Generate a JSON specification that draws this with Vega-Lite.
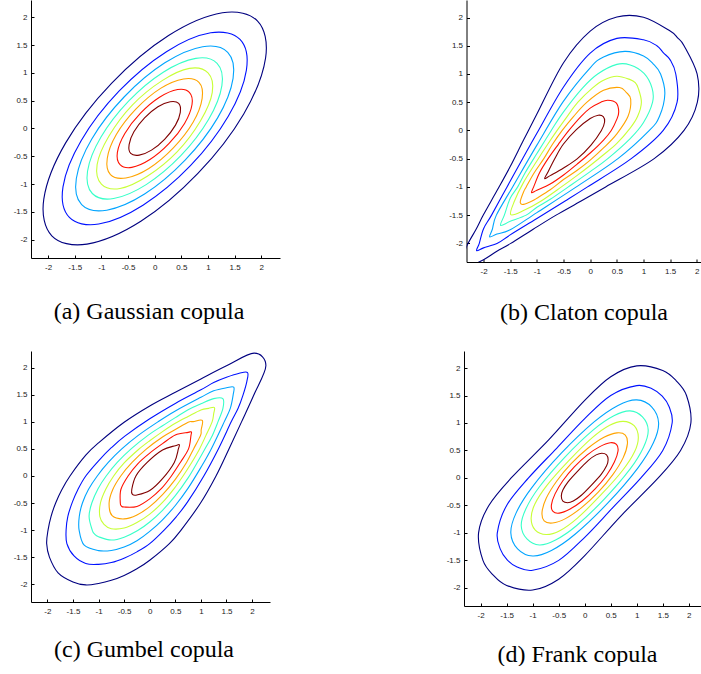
{
  "$schema": "https://vega.github.io/schema/vega-lite/v6.json",
  "background": "white",
  "padding": 0,
  "spacing": 27,
  "datasets": {
    "a": [
      {"lev":1,"i":0,"x":1.93,"y":1.93},{"lev":1,"i":1,"x":1.27,"y":2.08},{"lev":1,"i":2,"x":0.26,"y":1.67},{"lev":1,"i":3,"x":-0.81,"y":0.81},{"lev":1,"i":4,"x":-1.67,"y":-0.26},{"lev":1,"i":5,"x":-2.08,"y":-1.27},{"lev":1,"i":6,"x":-1.93,"y":-1.93},{"lev":1,"i":7,"x":-1.27,"y":-2.08},{"lev":1,"i":8,"x":-0.26,"y":-1.67},{"lev":1,"i":9,"x":0.81,"y":-0.81},{"lev":1,"i":10,"x":1.67,"y":0.26},{"lev":1,"i":11,"x":2.08,"y":1.27},
      {"lev":2,"i":0,"x":1.60,"y":1.60},{"lev":2,"i":1,"x":1.05,"y":1.72},{"lev":2,"i":2,"x":0.22,"y":1.38},{"lev":2,"i":3,"x":-0.67,"y":0.67},{"lev":2,"i":4,"x":-1.38,"y":-0.22},{"lev":2,"i":5,"x":-1.72,"y":-1.05},{"lev":2,"i":6,"x":-1.60,"y":-1.60},{"lev":2,"i":7,"x":-1.05,"y":-1.72},{"lev":2,"i":8,"x":-0.22,"y":-1.38},{"lev":2,"i":9,"x":0.67,"y":-0.67},{"lev":2,"i":10,"x":1.38,"y":0.22},{"lev":2,"i":11,"x":1.72,"y":1.05},
      {"lev":3,"i":0,"x":1.37,"y":1.37},{"lev":3,"i":1,"x":0.90,"y":1.47},{"lev":3,"i":2,"x":0.19,"y":1.18},{"lev":3,"i":3,"x":-0.57,"y":0.57},{"lev":3,"i":4,"x":-1.18,"y":-0.19},{"lev":3,"i":5,"x":-1.47,"y":-0.90},{"lev":3,"i":6,"x":-1.37,"y":-1.37},{"lev":3,"i":7,"x":-0.90,"y":-1.47},{"lev":3,"i":8,"x":-0.19,"y":-1.18},{"lev":3,"i":9,"x":0.57,"y":-0.57},{"lev":3,"i":10,"x":1.18,"y":0.19},{"lev":3,"i":11,"x":1.47,"y":0.90},
      {"lev":4,"i":0,"x":1.17,"y":1.17},{"lev":4,"i":1,"x":0.77,"y":1.26},{"lev":4,"i":2,"x":0.16,"y":1.01},{"lev":4,"i":3,"x":-0.49,"y":0.49},{"lev":4,"i":4,"x":-1.01,"y":-0.16},{"lev":4,"i":5,"x":-1.26,"y":-0.77},{"lev":4,"i":6,"x":-1.17,"y":-1.17},{"lev":4,"i":7,"x":-0.77,"y":-1.26},{"lev":4,"i":8,"x":-0.16,"y":-1.01},{"lev":4,"i":9,"x":0.49,"y":-0.49},{"lev":4,"i":10,"x":1.01,"y":0.16},{"lev":4,"i":11,"x":1.26,"y":0.77},
      {"lev":5,"i":0,"x":1.00,"y":1.00},{"lev":5,"i":1,"x":0.65,"y":1.08},{"lev":5,"i":2,"x":0.14,"y":0.86},{"lev":5,"i":3,"x":-0.42,"y":0.42},{"lev":5,"i":4,"x":-0.86,"y":-0.14},{"lev":5,"i":5,"x":-1.08,"y":-0.65},{"lev":5,"i":6,"x":-1.00,"y":-1.00},{"lev":5,"i":7,"x":-0.65,"y":-1.08},{"lev":5,"i":8,"x":-0.14,"y":-0.86},{"lev":5,"i":9,"x":0.42,"y":-0.42},{"lev":5,"i":10,"x":0.86,"y":0.14},{"lev":5,"i":11,"x":1.08,"y":0.65},
      {"lev":6,"i":0,"x":0.83,"y":0.83},{"lev":6,"i":1,"x":0.54,"y":0.89},{"lev":6,"i":2,"x":0.11,"y":0.72},{"lev":6,"i":3,"x":-0.35,"y":0.35},{"lev":6,"i":4,"x":-0.72,"y":-0.11},{"lev":6,"i":5,"x":-0.89,"y":-0.54},{"lev":6,"i":6,"x":-0.83,"y":-0.83},{"lev":6,"i":7,"x":-0.54,"y":-0.89},{"lev":6,"i":8,"x":-0.11,"y":-0.72},{"lev":6,"i":9,"x":0.35,"y":-0.35},{"lev":6,"i":10,"x":0.72,"y":0.11},{"lev":6,"i":11,"x":0.89,"y":0.54},
      {"lev":7,"i":0,"x":0.65,"y":0.65},{"lev":7,"i":1,"x":0.43,"y":0.70},{"lev":7,"i":2,"x":0.09,"y":0.56},{"lev":7,"i":3,"x":-0.27,"y":0.27},{"lev":7,"i":4,"x":-0.56,"y":-0.09},{"lev":7,"i":5,"x":-0.70,"y":-0.43},{"lev":7,"i":6,"x":-0.65,"y":-0.65},{"lev":7,"i":7,"x":-0.43,"y":-0.70},{"lev":7,"i":8,"x":-0.09,"y":-0.56},{"lev":7,"i":9,"x":0.27,"y":-0.27},{"lev":7,"i":10,"x":0.56,"y":0.09},{"lev":7,"i":11,"x":0.70,"y":0.43},
      {"lev":8,"i":0,"x":0.45,"y":0.45},{"lev":8,"i":1,"x":0.29,"y":0.48},{"lev":8,"i":2,"x":0.06,"y":0.39},{"lev":8,"i":3,"x":-0.19,"y":0.19},{"lev":8,"i":4,"x":-0.39,"y":-0.06},{"lev":8,"i":5,"x":-0.48,"y":-0.29},{"lev":8,"i":6,"x":-0.45,"y":-0.45},{"lev":8,"i":7,"x":-0.29,"y":-0.48},{"lev":8,"i":8,"x":-0.06,"y":-0.39},{"lev":8,"i":9,"x":0.19,"y":-0.19},{"lev":8,"i":10,"x":0.39,"y":0.06},{"lev":8,"i":11,"x":0.48,"y":0.29}
    ],
    "b": [
      {"lev":8,"i":0,"x":-0.855,"y":-0.855},{"lev":8,"i":1,"x":-0.80,"y":-0.75},{"lev":8,"i":2,"x":-0.665,"y":-0.5},{"lev":8,"i":3,"x":-0.505,"y":-0.245},{"lev":8,"i":4,"x":-0.26,"y":0.015},{"lev":8,"i":5,"x":0,"y":0.21},{"lev":8,"i":6,"x":0.15,"y":0.27},{"lev":8,"i":7,"x":0.245,"y":0.245},{"lev":8,"i":8,"x":0.27,"y":0.15},{"lev":8,"i":9,"x":0.21,"y":0},{"lev":8,"i":10,"x":0.015,"y":-0.26},{"lev":8,"i":11,"x":-0.245,"y":-0.505},{"lev":8,"i":12,"x":-0.5,"y":-0.665},{"lev":8,"i":13,"x":-0.75,"y":-0.80},
      {"lev":7,"i":0,"x":-1.10,"y":-1.10},{"lev":7,"i":1,"x":-1.06,"y":-1.0},{"lev":7,"i":2,"x":-0.95,"y":-0.75},{"lev":7,"i":3,"x":-0.79,"y":-0.5},{"lev":7,"i":4,"x":-0.60,"y":-0.25},{"lev":7,"i":5,"x":-0.40,"y":0},{"lev":7,"i":6,"x":-0.17,"y":0.25},{"lev":7,"i":7,"x":0,"y":0.395},{"lev":7,"i":8,"x":0.20,"y":0.50},{"lev":7,"i":9,"x":0.33,"y":0.535},{"lev":7,"i":10,"x":0.487,"y":0.487},{"lev":7,"i":11,"x":0.535,"y":0.33},{"lev":7,"i":12,"x":0.50,"y":0.20},{"lev":7,"i":13,"x":0.395,"y":0},{"lev":7,"i":14,"x":0.25,"y":-0.17},{"lev":7,"i":15,"x":0,"y":-0.40},{"lev":7,"i":16,"x":-0.25,"y":-0.60},{"lev":7,"i":17,"x":-0.5,"y":-0.79},{"lev":7,"i":18,"x":-0.75,"y":-0.95},{"lev":7,"i":19,"x":-1.0,"y":-1.06},
      {"lev":6,"i":0,"x":-1.30,"y":-1.30},{"lev":6,"i":1,"x":-1.31,"y":-1.25},{"lev":6,"i":2,"x":-1.25,"y":-1.09},{"lev":6,"i":3,"x":-1.20,"y":-1.0},{"lev":6,"i":4,"x":-1.05,"y":-0.75},{"lev":6,"i":5,"x":-0.87,"y":-0.5},{"lev":6,"i":6,"x":-0.71,"y":-0.25},{"lev":6,"i":7,"x":-0.525,"y":0},{"lev":6,"i":8,"x":-0.31,"y":0.25},{"lev":6,"i":9,"x":-0.06,"y":0.5},{"lev":6,"i":10,"x":0.25,"y":0.71},{"lev":6,"i":11,"x":0.55,"y":0.76},{"lev":6,"i":12,"x":0.675,"y":0.675},{"lev":6,"i":13,"x":0.76,"y":0.55},{"lev":6,"i":14,"x":0.71,"y":0.25},{"lev":6,"i":15,"x":0.5,"y":-0.06},{"lev":6,"i":16,"x":0.25,"y":-0.31},{"lev":6,"i":17,"x":0,"y":-0.525},{"lev":6,"i":18,"x":-0.25,"y":-0.71},{"lev":6,"i":19,"x":-0.5,"y":-0.87},{"lev":6,"i":20,"x":-0.75,"y":-1.05},{"lev":6,"i":21,"x":-1.0,"y":-1.20},{"lev":6,"i":22,"x":-1.09,"y":-1.25},{"lev":6,"i":23,"x":-1.25,"y":-1.31},
      {"lev":5,"i":0,"x":-1.49,"y":-1.49},{"lev":5,"i":1,"x":-1.42,"y":-1.25},{"lev":5,"i":2,"x":-1.25,"y":-0.92},{"lev":5,"i":3,"x":-1.0,"y":-0.54},{"lev":5,"i":4,"x":-0.80,"y":-0.25},{"lev":5,"i":5,"x":-0.62,"y":0},{"lev":5,"i":6,"x":-0.43,"y":0.25},{"lev":5,"i":7,"x":-0.23,"y":0.5},{"lev":5,"i":8,"x":0.04,"y":0.75},{"lev":5,"i":9,"x":0.25,"y":0.89},{"lev":5,"i":10,"x":0.5,"y":0.96},{"lev":5,"i":11,"x":0.75,"y":0.90},{"lev":5,"i":12,"x":0.845,"y":0.845},{"lev":5,"i":13,"x":0.90,"y":0.75},{"lev":5,"i":14,"x":0.96,"y":0.5},{"lev":5,"i":15,"x":0.89,"y":0.25},{"lev":5,"i":16,"x":0.75,"y":0.04},{"lev":5,"i":17,"x":0.5,"y":-0.23},{"lev":5,"i":18,"x":0.25,"y":-0.43},{"lev":5,"i":19,"x":0,"y":-0.62},{"lev":5,"i":20,"x":-0.25,"y":-0.80},{"lev":5,"i":21,"x":-0.54,"y":-1.0},{"lev":5,"i":22,"x":-0.92,"y":-1.25},{"lev":5,"i":23,"x":-1.25,"y":-1.42},
      {"lev":4,"i":0,"x":-1.68,"y":-1.68},{"lev":4,"i":1,"x":-1.61,"y":-1.5},{"lev":4,"i":2,"x":-1.5,"y":-1.20},{"lev":4,"i":3,"x":-1.36,"y":-1.0},{"lev":4,"i":4,"x":-1.22,"y":-0.75},{"lev":4,"i":5,"x":-1.0,"y":-0.41},{"lev":4,"i":6,"x":-0.73,"y":0},{"lev":4,"i":7,"x":-0.5,"y":0.33},{"lev":4,"i":8,"x":-0.145,"y":0.75},{"lev":4,"i":9,"x":0.14,"y":1.0},{"lev":4,"i":10,"x":0.5,"y":1.17},{"lev":4,"i":11,"x":0.75,"y":1.16},{"lev":4,"i":12,"x":1.01,"y":1.01},{"lev":4,"i":13,"x":1.16,"y":0.75},{"lev":4,"i":14,"x":1.17,"y":0.5},{"lev":4,"i":15,"x":1.0,"y":0.14},{"lev":4,"i":16,"x":0.75,"y":-0.145},{"lev":4,"i":17,"x":0.33,"y":-0.5},{"lev":4,"i":18,"x":0,"y":-0.73},{"lev":4,"i":19,"x":-0.41,"y":-1.0},{"lev":4,"i":20,"x":-0.75,"y":-1.22},{"lev":4,"i":21,"x":-1.0,"y":-1.36},{"lev":4,"i":22,"x":-1.20,"y":-1.5},{"lev":4,"i":23,"x":-1.5,"y":-1.61},
      {"lev":3,"i":0,"x":-1.885,"y":-1.885},{"lev":3,"i":1,"x":-1.835,"y":-1.75},{"lev":3,"i":2,"x":-1.76,"y":-1.5},{"lev":3,"i":3,"x":-1.455,"y":-1.0},{"lev":3,"i":4,"x":-1.0,"y":-0.26},{"lev":3,"i":5,"x":-0.5,"y":0.52},{"lev":3,"i":6,"x":0,"y":1.11},{"lev":3,"i":7,"x":0.25,"y":1.30},{"lev":3,"i":8,"x":0.65,"y":1.40},{"lev":3,"i":9,"x":1.0,"y":1.32},{"lev":3,"i":10,"x":1.18,"y":1.18},{"lev":3,"i":11,"x":1.32,"y":1.0},{"lev":3,"i":12,"x":1.40,"y":0.65},{"lev":3,"i":13,"x":1.30,"y":0.25},{"lev":3,"i":14,"x":1.11,"y":0},{"lev":3,"i":15,"x":0.52,"y":-0.5},{"lev":3,"i":16,"x":-0.26,"y":-1.0},{"lev":3,"i":17,"x":-1.0,"y":-1.455},{"lev":3,"i":18,"x":-1.5,"y":-1.76},{"lev":3,"i":19,"x":-1.75,"y":-1.835},
      {"lev":2,"i":0,"x":-2.13,"y":-2.13},{"lev":2,"i":1,"x":-2.08,"y":-2.0},{"lev":2,"i":2,"x":-2.0,"y":-1.74},{"lev":2,"i":3,"x":-1.85,"y":-1.5},{"lev":2,"i":4,"x":-1.56,"y":-1.0},{"lev":2,"i":5,"x":-1.25,"y":-0.47},{"lev":2,"i":6,"x":-1.0,"y":-0.05},{"lev":2,"i":7,"x":-0.5,"y":0.77},{"lev":2,"i":8,"x":0,"y":1.37},{"lev":2,"i":9,"x":0.5,"y":1.63},{"lev":2,"i":10,"x":1.0,"y":1.605},{"lev":2,"i":11,"x":1.25,"y":1.50},{"lev":2,"i":12,"x":1.374,"y":1.374},{"lev":2,"i":13,"x":1.50,"y":1.25},{"lev":2,"i":14,"x":1.605,"y":1.0},{"lev":2,"i":15,"x":1.63,"y":0.5},{"lev":2,"i":16,"x":1.37,"y":0},{"lev":2,"i":17,"x":0.77,"y":-0.5},{"lev":2,"i":18,"x":-0.05,"y":-1.0},{"lev":2,"i":19,"x":-0.47,"y":-1.25},{"lev":2,"i":20,"x":-1.0,"y":-1.56},{"lev":2,"i":21,"x":-1.5,"y":-1.85},{"lev":2,"i":22,"x":-1.74,"y":-2.0},{"lev":2,"i":23,"x":-2.0,"y":-2.08},
      {"lev":1,"i":0,"x":-2.49,"y":-2.49},{"lev":1,"i":1,"x":-2.40,"y":-2.25},{"lev":1,"i":2,"x":-2.29,"y":-2.0},{"lev":1,"i":3,"x":-2.14,"y":-1.75},{"lev":1,"i":4,"x":-2.0,"y":-1.49},{"lev":1,"i":5,"x":-1.75,"y":-1.07},{"lev":1,"i":6,"x":-1.5,"y":-0.64},{"lev":1,"i":7,"x":-1.25,"y":-0.17},{"lev":1,"i":8,"x":-1.0,"y":0.29},{"lev":1,"i":9,"x":-0.5,"y":1.20},{"lev":1,"i":10,"x":0,"y":1.76},{"lev":1,"i":11,"x":0.5,"y":2.01},{"lev":1,"i":12,"x":1.0,"y":2.005},{"lev":1,"i":13,"x":1.5,"y":1.76},{"lev":1,"i":14,"x":1.64,"y":1.64},{"lev":1,"i":15,"x":1.76,"y":1.5},{"lev":1,"i":16,"x":2.005,"y":1.0},{"lev":1,"i":17,"x":2.01,"y":0.5},{"lev":1,"i":18,"x":1.76,"y":0},{"lev":1,"i":19,"x":1.20,"y":-0.5},{"lev":1,"i":20,"x":0.29,"y":-1.0},{"lev":1,"i":21,"x":-0.17,"y":-1.25},{"lev":1,"i":22,"x":-0.64,"y":-1.5},{"lev":1,"i":23,"x":-1.07,"y":-1.75},{"lev":1,"i":24,"x":-1.49,"y":-2.0},{"lev":1,"i":25,"x":-1.75,"y":-2.14},{"lev":1,"i":26,"x":-2.0,"y":-2.29},{"lev":1,"i":27,"x":-2.25,"y":-2.40}
    ],
    "c": [
      {"lev":8,"i":0,"x":-0.339,"y":-0.339},{"lev":8,"i":1,"x":-0.351,"y":-0.25},{"lev":8,"i":2,"x":-0.27,"y":0},{"lev":8,"i":3,"x":-0.05,"y":0.25},{"lev":8,"i":4,"x":0.25,"y":0.48},{"lev":8,"i":5,"x":0.5,"y":0.56},{"lev":8,"i":6,"x":0.578,"y":0.578},{"lev":8,"i":7,"x":0.56,"y":0.5},{"lev":8,"i":8,"x":0.48,"y":0.25},{"lev":8,"i":9,"x":0.25,"y":-0.05},{"lev":8,"i":10,"x":0,"y":-0.27},{"lev":8,"i":11,"x":-0.25,"y":-0.351},
      {"lev":7,"i":0,"x":-0.554,"y":-0.554},{"lev":7,"i":1,"x":-0.575,"y":-0.5},{"lev":7,"i":2,"x":-0.564,"y":-0.25},{"lev":7,"i":3,"x":-0.423,"y":0},{"lev":7,"i":4,"x":-0.23,"y":0.23},{"lev":7,"i":5,"x":0,"y":0.423},{"lev":7,"i":6,"x":0.25,"y":0.598},{"lev":7,"i":7,"x":0.5,"y":0.758},{"lev":7,"i":8,"x":0.75,"y":0.806},{"lev":7,"i":9,"x":0.814,"y":0.814},{"lev":7,"i":10,"x":0.806,"y":0.75},{"lev":7,"i":11,"x":0.758,"y":0.5},{"lev":7,"i":12,"x":0.598,"y":0.25},{"lev":7,"i":13,"x":0.423,"y":0},{"lev":7,"i":14,"x":0.23,"y":-0.23},{"lev":7,"i":15,"x":0,"y":-0.423},{"lev":7,"i":16,"x":-0.25,"y":-0.564},{"lev":7,"i":17,"x":-0.5,"y":-0.575},
      {"lev":6,"i":0,"x":-0.735,"y":-0.735},{"lev":6,"i":1,"x":-0.794,"y":-0.5},{"lev":6,"i":2,"x":-0.722,"y":-0.25},{"lev":6,"i":3,"x":-0.566,"y":0},{"lev":6,"i":4,"x":-0.345,"y":0.25},{"lev":6,"i":5,"x":-0.062,"y":0.5},{"lev":6,"i":6,"x":0.25,"y":0.719},{"lev":6,"i":7,"x":0.5,"y":0.857},{"lev":6,"i":8,"x":0.75,"y":0.993},{"lev":6,"i":9,"x":0.85,"y":1.005},{"lev":6,"i":10,"x":1.027,"y":1.027},{"lev":6,"i":11,"x":1.005,"y":0.85},{"lev":6,"i":12,"x":0.993,"y":0.75},{"lev":6,"i":13,"x":0.857,"y":0.5},{"lev":6,"i":14,"x":0.719,"y":0.25},{"lev":6,"i":15,"x":0.5,"y":-0.062},{"lev":6,"i":16,"x":0.25,"y":-0.345},{"lev":6,"i":17,"x":0,"y":-0.566},{"lev":6,"i":18,"x":-0.25,"y":-0.722},{"lev":6,"i":19,"x":-0.5,"y":-0.794},
      {"lev":5,"i":0,"x":-0.894,"y":-0.894},{"lev":5,"i":1,"x":-0.975,"y":-0.75},{"lev":5,"i":2,"x":-0.963,"y":-0.5},{"lev":5,"i":3,"x":-0.862,"y":-0.25},{"lev":5,"i":4,"x":-0.705,"y":0},{"lev":5,"i":5,"x":-0.495,"y":0.245},{"lev":5,"i":6,"x":-0.23,"y":0.48},{"lev":5,"i":7,"x":0,"y":0.651},{"lev":5,"i":8,"x":0.25,"y":0.82},{"lev":5,"i":9,"x":0.5,"y":0.973},{"lev":5,"i":10,"x":0.75,"y":1.099},{"lev":5,"i":11,"x":1.0,"y":1.219},{"lev":5,"i":12,"x":1.152,"y":1.25},{"lev":5,"i":13,"x":1.264,"y":1.264},{"lev":5,"i":14,"x":1.25,"y":1.152},{"lev":5,"i":15,"x":1.219,"y":1.0},{"lev":5,"i":16,"x":1.099,"y":0.75},{"lev":5,"i":17,"x":0.973,"y":0.5},{"lev":5,"i":18,"x":0.82,"y":0.25},{"lev":5,"i":19,"x":0.651,"y":0},{"lev":5,"i":20,"x":0.48,"y":-0.23},{"lev":5,"i":21,"x":0.245,"y":-0.495},{"lev":5,"i":22,"x":0,"y":-0.705},{"lev":5,"i":23,"x":-0.25,"y":-0.862},{"lev":5,"i":24,"x":-0.5,"y":-0.963},{"lev":5,"i":25,"x":-0.75,"y":-0.975},
      {"lev":4,"i":0,"x":-1.076,"y":-1.076},{"lev":4,"i":1,"x":-1.124,"y":-1.0},{"lev":4,"i":2,"x":-1.185,"y":-0.75},{"lev":4,"i":3,"x":-1.132,"y":-0.5},{"lev":4,"i":4,"x":-1.01,"y":-0.235},{"lev":4,"i":5,"x":-0.851,"y":0},{"lev":4,"i":6,"x":-0.635,"y":0.25},{"lev":4,"i":7,"x":-0.364,"y":0.5},{"lev":4,"i":8,"x":-0.035,"y":0.75},{"lev":4,"i":9,"x":0.25,"y":0.928},{"lev":4,"i":10,"x":0.5,"y":1.078},{"lev":4,"i":11,"x":0.75,"y":1.224},{"lev":4,"i":12,"x":1.0,"y":1.333},{"lev":4,"i":13,"x":1.25,"y":1.43},{"lev":4,"i":14,"x":1.429,"y":1.429},{"lev":4,"i":15,"x":1.43,"y":1.25},{"lev":4,"i":16,"x":1.333,"y":1.0},{"lev":4,"i":17,"x":1.224,"y":0.75},{"lev":4,"i":18,"x":1.078,"y":0.5},{"lev":4,"i":19,"x":0.928,"y":0.25},{"lev":4,"i":20,"x":0.75,"y":-0.035},{"lev":4,"i":21,"x":0.5,"y":-0.364},{"lev":4,"i":22,"x":0.25,"y":-0.635},{"lev":4,"i":23,"x":0,"y":-0.851},{"lev":4,"i":24,"x":-0.235,"y":-1.01},{"lev":4,"i":25,"x":-0.5,"y":-1.132},{"lev":4,"i":26,"x":-0.75,"y":-1.185},{"lev":4,"i":27,"x":-1.0,"y":-1.124},
      {"lev":3,"i":0,"x":-1.28,"y":-1.28},{"lev":3,"i":1,"x":-1.38,"y":-1.0},{"lev":3,"i":2,"x":-1.377,"y":-0.75},{"lev":3,"i":3,"x":-1.315,"y":-0.5},{"lev":3,"i":4,"x":-1.198,"y":-0.25},{"lev":3,"i":5,"x":-1.025,"y":0},{"lev":3,"i":6,"x":-0.81,"y":0.25},{"lev":3,"i":7,"x":-0.546,"y":0.5},{"lev":3,"i":8,"x":-0.225,"y":0.75},{"lev":3,"i":9,"x":0.159,"y":1.0},{"lev":3,"i":10,"x":0.5,"y":1.202},{"lev":3,"i":11,"x":1.0,"y":1.455},{"lev":3,"i":12,"x":1.25,"y":1.574},{"lev":3,"i":13,"x":1.5,"y":1.63},{"lev":3,"i":14,"x":1.641,"y":1.641},{"lev":3,"i":15,"x":1.63,"y":1.5},{"lev":3,"i":16,"x":1.574,"y":1.25},{"lev":3,"i":17,"x":1.455,"y":1.0},{"lev":3,"i":18,"x":1.202,"y":0.5},{"lev":3,"i":19,"x":1.0,"y":0.159},{"lev":3,"i":20,"x":0.75,"y":-0.225},{"lev":3,"i":21,"x":0.5,"y":-0.546},{"lev":3,"i":22,"x":0.25,"y":-0.81},{"lev":3,"i":23,"x":0,"y":-1.025},{"lev":3,"i":24,"x":-0.25,"y":-1.198},{"lev":3,"i":25,"x":-0.5,"y":-1.315},{"lev":3,"i":26,"x":-0.75,"y":-1.377},{"lev":3,"i":27,"x":-1.0,"y":-1.38},
      {"lev":2,"i":0,"x":-1.479,"y":-1.479},{"lev":2,"i":1,"x":-1.619,"y":-1.25},{"lev":2,"i":2,"x":-1.634,"y":-1.0},{"lev":2,"i":3,"x":-1.601,"y":-0.75},{"lev":2,"i":4,"x":-1.51,"y":-0.48},{"lev":2,"i":5,"x":-1.403,"y":-0.25},{"lev":2,"i":6,"x":-1.25,"y":0},{"lev":2,"i":7,"x":-1.0,"y":0.281},{"lev":2,"i":8,"x":-0.75,"y":0.522},{"lev":2,"i":9,"x":-0.48,"y":0.74},{"lev":2,"i":10,"x":0,"y":1.057},{"lev":2,"i":11,"x":0.5,"y":1.341},{"lev":2,"i":12,"x":1.0,"y":1.592},{"lev":2,"i":13,"x":1.25,"y":1.727},{"lev":2,"i":14,"x":1.5,"y":1.824},{"lev":2,"i":15,"x":1.75,"y":1.898},{"lev":2,"i":16,"x":1.911,"y":1.911},{"lev":2,"i":17,"x":1.898,"y":1.75},{"lev":2,"i":18,"x":1.824,"y":1.5},{"lev":2,"i":19,"x":1.727,"y":1.25},{"lev":2,"i":20,"x":1.592,"y":1.0},{"lev":2,"i":21,"x":1.341,"y":0.5},{"lev":2,"i":22,"x":1.057,"y":0},{"lev":2,"i":23,"x":0.74,"y":-0.48},{"lev":2,"i":24,"x":0.522,"y":-0.75},{"lev":2,"i":25,"x":0.281,"y":-1.0},{"lev":2,"i":26,"x":0,"y":-1.25},{"lev":2,"i":27,"x":-0.25,"y":-1.403},{"lev":2,"i":28,"x":-0.48,"y":-1.51},{"lev":2,"i":29,"x":-0.75,"y":-1.601},{"lev":2,"i":30,"x":-1.0,"y":-1.634},{"lev":2,"i":31,"x":-1.25,"y":-1.619},
      {"lev":1,"i":0,"x":-1.791,"y":-1.791},{"lev":1,"i":1,"x":-1.96,"y":-1.5},{"lev":1,"i":2,"x":-2.014,"y":-1.25},{"lev":1,"i":3,"x":-1.987,"y":-1.0},{"lev":1,"i":4,"x":-1.929,"y":-0.75},{"lev":1,"i":5,"x":-1.838,"y":-0.5},{"lev":1,"i":6,"x":-1.716,"y":-0.25},{"lev":1,"i":7,"x":-1.558,"y":0},{"lev":1,"i":8,"x":-1.25,"y":0.384},{"lev":1,"i":9,"x":-1.0,"y":0.612},{"lev":1,"i":10,"x":-0.5,"y":0.993},{"lev":1,"i":11,"x":0,"y":1.295},{"lev":1,"i":12,"x":0.5,"y":1.548},{"lev":1,"i":13,"x":1.0,"y":1.794},{"lev":1,"i":14,"x":1.5,"y":2.036},{"lev":1,"i":15,"x":2.04,"y":2.27},{"lev":1,"i":16,"x":2.27,"y":2.04},{"lev":1,"i":17,"x":2.036,"y":1.5},{"lev":1,"i":18,"x":1.794,"y":1.0},{"lev":1,"i":19,"x":1.548,"y":0.5},{"lev":1,"i":20,"x":1.295,"y":0},{"lev":1,"i":21,"x":0.993,"y":-0.5},{"lev":1,"i":22,"x":0.612,"y":-1.0},{"lev":1,"i":23,"x":0.384,"y":-1.25},{"lev":1,"i":24,"x":0,"y":-1.558},{"lev":1,"i":25,"x":-0.25,"y":-1.716},{"lev":1,"i":26,"x":-0.5,"y":-1.838},{"lev":1,"i":27,"x":-0.75,"y":-1.929},{"lev":1,"i":28,"x":-1.0,"y":-1.987},{"lev":1,"i":29,"x":-1.25,"y":-2.014},{"lev":1,"i":30,"x":-1.5,"y":-1.96}
    ],
    "d": [
      {"lev":8,"i":0,"x":0.42,"y":0.42},{"lev":8,"i":1,"x":0.33,"y":0.45},{"lev":8,"i":2,"x":0.22,"y":0.42},{"lev":8,"i":3,"x":0.07,"y":0.32},{"lev":8,"i":4,"x":-0.13,"y":0.13},{"lev":8,"i":5,"x":-0.32,"y":-0.07},{"lev":8,"i":6,"x":-0.42,"y":-0.22},{"lev":8,"i":7,"x":-0.45,"y":-0.33},{"lev":8,"i":8,"x":-0.42,"y":-0.42},{"lev":8,"i":9,"x":-0.33,"y":-0.45},{"lev":8,"i":10,"x":-0.22,"y":-0.42},{"lev":8,"i":11,"x":-0.07,"y":-0.32},{"lev":8,"i":12,"x":0.13,"y":-0.13},{"lev":8,"i":13,"x":0.32,"y":0.07},{"lev":8,"i":14,"x":0.42,"y":0.22},{"lev":8,"i":15,"x":0.45,"y":0.33},
      {"lev":7,"i":0,"x":0.61,"y":0.61},{"lev":7,"i":1,"x":0.49,"y":0.64},{"lev":7,"i":2,"x":0.29,"y":0.57},{"lev":7,"i":3,"x":0.05,"y":0.42},{"lev":7,"i":4,"x":-0.20,"y":0.20},{"lev":7,"i":5,"x":-0.42,"y":-0.05},{"lev":7,"i":6,"x":-0.57,"y":-0.29},{"lev":7,"i":7,"x":-0.64,"y":-0.49},{"lev":7,"i":8,"x":-0.61,"y":-0.61},{"lev":7,"i":9,"x":-0.49,"y":-0.64},{"lev":7,"i":10,"x":-0.29,"y":-0.57},{"lev":7,"i":11,"x":-0.05,"y":-0.42},{"lev":7,"i":12,"x":0.20,"y":-0.20},{"lev":7,"i":13,"x":0.42,"y":0.05},{"lev":7,"i":14,"x":0.57,"y":0.29},{"lev":7,"i":15,"x":0.64,"y":0.49},
      {"lev":6,"i":0,"x":0.78,"y":0.78},{"lev":6,"i":1,"x":0.62,"y":0.82},{"lev":6,"i":2,"x":0.37,"y":0.74},{"lev":6,"i":3,"x":0.06,"y":0.54},{"lev":6,"i":4,"x":-0.26,"y":0.26},{"lev":6,"i":5,"x":-0.54,"y":-0.06},{"lev":6,"i":6,"x":-0.74,"y":-0.37},{"lev":6,"i":7,"x":-0.82,"y":-0.62},{"lev":6,"i":8,"x":-0.78,"y":-0.78},{"lev":6,"i":9,"x":-0.62,"y":-0.82},{"lev":6,"i":10,"x":-0.37,"y":-0.74},{"lev":6,"i":11,"x":-0.06,"y":-0.54},{"lev":6,"i":12,"x":0.26,"y":-0.26},{"lev":6,"i":13,"x":0.54,"y":0.06},{"lev":6,"i":14,"x":0.74,"y":0.37},{"lev":6,"i":15,"x":0.82,"y":0.62},
      {"lev":5,"i":0,"x":0.95,"y":0.95},{"lev":5,"i":1,"x":0.74,"y":1.03},{"lev":5,"i":2,"x":0.48,"y":0.96},{"lev":5,"i":3,"x":0.14,"y":0.73},{"lev":5,"i":4,"x":-0.31,"y":0.31},{"lev":5,"i":5,"x":-0.73,"y":-0.14},{"lev":5,"i":6,"x":-0.96,"y":-0.48},{"lev":5,"i":7,"x":-1.03,"y":-0.74},{"lev":5,"i":8,"x":-0.95,"y":-0.95},{"lev":5,"i":9,"x":-0.74,"y":-1.03},{"lev":5,"i":10,"x":-0.48,"y":-0.96},{"lev":5,"i":11,"x":-0.14,"y":-0.73},{"lev":5,"i":12,"x":0.31,"y":-0.31},{"lev":5,"i":13,"x":0.73,"y":0.14},{"lev":5,"i":14,"x":0.96,"y":0.48},{"lev":5,"i":15,"x":1.03,"y":0.74},
      {"lev":4,"i":0,"x":1.11,"y":1.11},{"lev":4,"i":1,"x":0.87,"y":1.22},{"lev":4,"i":2,"x":0.56,"y":1.13},{"lev":4,"i":3,"x":0.16,"y":0.87},{"lev":4,"i":4,"x":-0.38,"y":0.38},{"lev":4,"i":5,"x":-0.87,"y":-0.16},{"lev":4,"i":6,"x":-1.13,"y":-0.56},{"lev":4,"i":7,"x":-1.22,"y":-0.87},{"lev":4,"i":8,"x":-1.11,"y":-1.11},{"lev":4,"i":9,"x":-0.87,"y":-1.22},{"lev":4,"i":10,"x":-0.56,"y":-1.13},{"lev":4,"i":11,"x":-0.16,"y":-0.87},{"lev":4,"i":12,"x":0.38,"y":-0.38},{"lev":4,"i":13,"x":0.87,"y":0.16},{"lev":4,"i":14,"x":1.13,"y":0.56},{"lev":4,"i":15,"x":1.22,"y":0.87},
      {"lev":3,"i":0,"x":1.29,"y":1.29},{"lev":3,"i":1,"x":1.00,"y":1.42},{"lev":3,"i":2,"x":0.64,"y":1.32},{"lev":3,"i":3,"x":0.18,"y":1.02},{"lev":3,"i":4,"x":-0.45,"y":0.45},{"lev":3,"i":5,"x":-1.02,"y":-0.18},{"lev":3,"i":6,"x":-1.32,"y":-0.64},{"lev":3,"i":7,"x":-1.42,"y":-1.00},{"lev":3,"i":8,"x":-1.29,"y":-1.29},{"lev":3,"i":9,"x":-1.00,"y":-1.42},{"lev":3,"i":10,"x":-0.64,"y":-1.32},{"lev":3,"i":11,"x":-0.18,"y":-1.02},{"lev":3,"i":12,"x":0.45,"y":-0.45},{"lev":3,"i":13,"x":1.02,"y":0.18},{"lev":3,"i":14,"x":1.32,"y":0.64},{"lev":3,"i":15,"x":1.42,"y":1.00},
      {"lev":2,"i":0,"x":1.49,"y":1.49},{"lev":2,"i":1,"x":1.30,"y":1.62},{"lev":2,"i":2,"x":1.00,"y":1.68},{"lev":2,"i":3,"x":0.50,"y":1.50},{"lev":2,"i":4,"x":0,"y":1.08},{"lev":2,"i":5,"x":-0.54,"y":0.54},{"lev":2,"i":6,"x":-1.08,"y":0},{"lev":2,"i":7,"x":-1.50,"y":-0.50},{"lev":2,"i":8,"x":-1.68,"y":-1.00},{"lev":2,"i":9,"x":-1.62,"y":-1.30},{"lev":2,"i":10,"x":-1.49,"y":-1.49},{"lev":2,"i":11,"x":-1.30,"y":-1.62},{"lev":2,"i":12,"x":-1.00,"y":-1.68},{"lev":2,"i":13,"x":-0.50,"y":-1.50},{"lev":2,"i":14,"x":0,"y":-1.08},{"lev":2,"i":15,"x":0.54,"y":-0.54},{"lev":2,"i":16,"x":1.08,"y":0},{"lev":2,"i":17,"x":1.50,"y":0.50},{"lev":2,"i":18,"x":1.68,"y":1.00},{"lev":2,"i":19,"x":1.62,"y":1.30},
      {"lev":1,"i":0,"x":1.763,"y":1.763},{"lev":1,"i":1,"x":1.50,"y":1.956},{"lev":1,"i":2,"x":1.00,"y":2.04},{"lev":1,"i":3,"x":0.50,"y":1.842},{"lev":1,"i":4,"x":0,"y":1.413},{"lev":1,"i":5,"x":-0.693,"y":0.693},{"lev":1,"i":6,"x":-1.413,"y":0},{"lev":1,"i":7,"x":-1.842,"y":-0.50},{"lev":1,"i":8,"x":-2.04,"y":-1.00},{"lev":1,"i":9,"x":-1.956,"y":-1.50},{"lev":1,"i":10,"x":-1.763,"y":-1.763},{"lev":1,"i":11,"x":-1.50,"y":-1.956},{"lev":1,"i":12,"x":-1.00,"y":-2.04},{"lev":1,"i":13,"x":-0.50,"y":-1.842},{"lev":1,"i":14,"x":0,"y":-1.413},{"lev":1,"i":15,"x":0.693,"y":-0.693},{"lev":1,"i":16,"x":1.413,"y":0},{"lev":1,"i":17,"x":1.842,"y":0.50},{"lev":1,"i":18,"x":2.04,"y":1.00},{"lev":1,"i":19,"x":1.956,"y":1.50}
    ]
  },
  "vconcat": [
    {
      "hconcat": [
        {
          "width": 249, "height": 258,
          "data": {"name": "a"},
          "mark": {"type": "line", "interpolate": "cardinal-closed", "strokeWidth": 1.1, "clip": true},
          "encoding": {
            "x": {"field": "x", "type": "quantitative", "scale": {"domain": [-2.32, 2.35], "nice": false, "zero": false},
                  "axis": {"values": [-2,-1.5,-1,-0.5,0,0.5,1,1.5,2], "format": "~g", "labelExpr": "replace(datum.label, '−', '-')", "title": "(a) Gaussian copula", "titleX": 117.5, "titleY": 60, "titleBaseline": "alphabetic", "titleAlign": "center"}},
            "y": {"field": "y", "type": "quantitative", "scale": {"domain": [-2.33, 2.31], "nice": false, "zero": false},
                  "axis": {"values": [-2,-1.5,-1,-0.5,0,0.5,1,1.5,2], "format": "~g", "labelExpr": "replace(datum.label, '−', '-')", "title": null, "minExtent": 25.7}},
            "color": {"field": "lev", "type": "ordinal", "scale": {"domain": [1,2,3,4,5,6,7,8], "range": ["#000080","#0012FF","#00A4FF","#37FFC8","#C8FF37","#FFA400","#FF1200","#800000"]}, "legend": null},
            "order": {"field": "i", "type": "quantitative"}
          }
        },
        {
          "width": 249, "height": 262,
          "data": {"name": "b"},
          "mark": {"type": "line", "interpolate": "cardinal-closed", "strokeWidth": 1.1, "clip": true},
          "encoding": {
            "x": {"field": "x", "type": "quantitative", "scale": {"domain": [-2.32, 2.35], "nice": false, "zero": false},
                  "axis": {"values": [-2,-1.5,-1,-0.5,0,0.5,1,1.5,2], "format": "~g", "labelExpr": "replace(datum.label, '−', '-')", "title": "(b) Claton copula", "titleX": 117, "titleY": 57, "titleBaseline": "alphabetic", "titleAlign": "center"}},
            "y": {"field": "y", "type": "quantitative", "scale": {"domain": [-2.33, 2.31], "nice": false, "zero": false},
                  "axis": {"values": [-2,-1.5,-1,-0.5,0,0.5,1,1.5,2], "format": "~g", "labelExpr": "replace(datum.label, '−', '-')", "title": null, "minExtent": 20}},
            "color": {"field": "lev", "type": "ordinal", "scale": {"domain": [1,2,3,4,5,6,7,8], "range": ["#000080","#0012FF","#00A4FF","#37FFC8","#C8FF37","#FFA400","#FF1200","#800000"]}, "legend": null},
            "order": {"field": "i", "type": "quantitative"}
          }
        }
      ],
      "spacing": 166.5
    },
    {
      "hconcat": [
        {
          "width": 239, "height": 251,
          "data": {"name": "c"},
          "mark": {"type": "line", "interpolate": "cardinal-closed", "strokeWidth": 1.1, "clip": true},
          "encoding": {
            "x": {"field": "x", "type": "quantitative", "scale": {"domain": [-2.32, 2.35], "nice": false, "zero": false},
                  "axis": {"values": [-2,-1.5,-1,-0.5,0,0.5,1,1.5,2], "format": "~g", "labelExpr": "replace(datum.label, '−', '-')", "title": "(c) Gumbel copula", "titleX": 112.5, "titleY": 54, "titleBaseline": "alphabetic", "titleAlign": "center"}},
            "y": {"field": "y", "type": "quantitative", "scale": {"domain": [-2.33, 2.31], "nice": false, "zero": false},
                  "axis": {"values": [-2,-1.5,-1,-0.5,0,0.5,1,1.5,2], "format": "~g", "labelExpr": "replace(datum.label, '−', '-')", "title": null, "minExtent": 30.3}},
            "color": {"field": "lev", "type": "ordinal", "scale": {"domain": [1,2,3,4,5,6,7,8], "range": ["#000080","#0012FF","#00A4FF","#37FFC8","#C8FF37","#FFA400","#FF1200","#800000"]}, "legend": null},
            "order": {"field": "i", "type": "quantitative"}
          }
        },
        {
          "width": 243, "height": 255,
          "data": {"name": "d"},
          "mark": {"type": "line", "interpolate": "cardinal-closed", "strokeWidth": 1.1, "clip": true},
          "encoding": {
            "x": {"field": "x", "type": "quantitative", "scale": {"domain": [-2.32, 2.35], "nice": false, "zero": false},
                  "axis": {"values": [-2,-1.5,-1,-0.5,0,0.5,1,1.5,2], "format": "~g", "labelExpr": "replace(datum.label, '−', '-')", "title": "(d) Frank copula", "titleX": 113, "titleY": 55, "titleBaseline": "alphabetic", "titleAlign": "center"}},
            "y": {"field": "y", "type": "quantitative", "scale": {"domain": [-2.33, 2.31], "nice": false, "zero": false},
                  "axis": {"values": [-2,-1.5,-1,-0.5,0,0.5,1,1.5,2], "format": "~g", "labelExpr": "replace(datum.label, '−', '-')", "title": null, "minExtent": 20}},
            "color": {"field": "lev", "type": "ordinal", "scale": {"domain": [1,2,3,4,5,6,7,8], "range": ["#000080","#0012FF","#00A4FF","#37FFC8","#C8FF37","#FFA400","#FF1200","#800000"]}, "legend": null},
            "order": {"field": "i", "type": "quantitative"}
          }
        }
      ],
      "spacing": 174
    }
  ],
  "config": {
    "view": {"stroke": null},
    "axis": {
      "grid": false,
      "domainColor": "#000000",
      "domainWidth": 1,
      "tickColor": "#000000",
      "tickSize": -3,
      "labelFont": "Liberation Sans",
      "labelFontSize": 8,
      "labelColor": "#222222",
      "labelFlush": false,
      "labelOverlap": false,
      "titleFont": "Liberation Serif",
      "titleFontSize": 24,
      "titleFontWeight": "normal",
      "titleColor": "#000000"
    },
    "axisX": {"labelPadding": 8},
    "axisY": {"labelPadding": 7}
  }
}
